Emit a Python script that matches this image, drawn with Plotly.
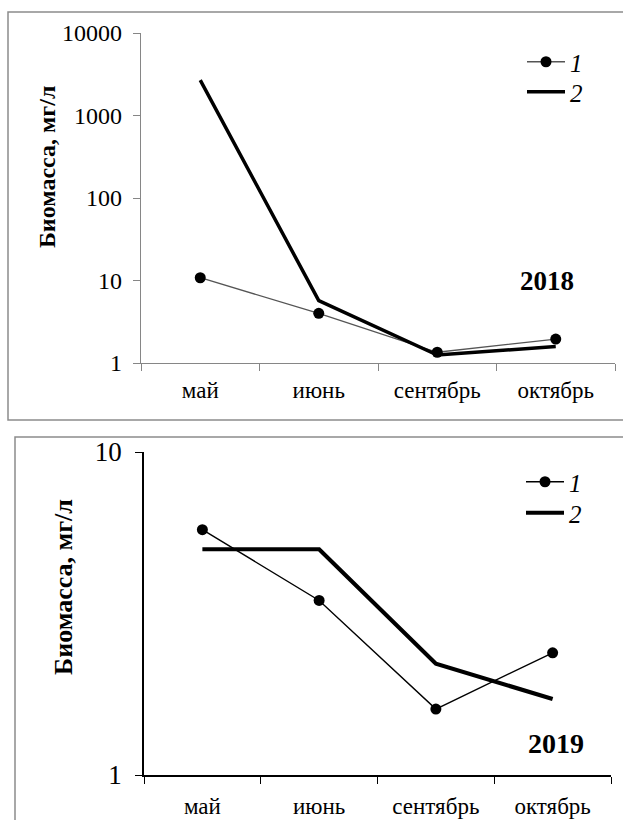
import plotly.graph_objects as go

months = ["май", "июнь", "сентябрь", "октябрь"]

bio2018_s1 = [10.8, 4.0, 1.35, 1.95]
bio2018_s2 = [2690, 5.7, 1.25, 1.58]

bio2019_s1 = [5.75, 3.47, 1.6, 2.39]
bio2019_s2 = [5.0, 5.0, 2.21, 1.72]

ticks2018 = [1, 10, 100, 1000, 10000]
ticks2019 = [1, 10]

series_names = ["<i>1</i>", "<i>2</i>"]
ytitle = "Биомасса, мг/л"

W, H = 623, 820
FONT = "Liberation Serif, Times New Roman, DejaVu Serif, serif"


def px(x):
    return x / W


def py(y):
    return 1 - y / H


fig = go.Figure()

fig.add_trace(go.Scatter(x=months, y=bio2018_s1, name=series_names[0], mode="lines+markers",
                         line=dict(color="#555555", width=1.3),
                         marker=dict(color="black", size=11),
                         xaxis="x", yaxis="y", legend="legend"))
fig.add_trace(go.Scatter(x=months, y=bio2018_s2, name=series_names[1], mode="lines",
                         line=dict(color="black", width=3.5),
                         xaxis="x", yaxis="y", legend="legend2"))
fig.add_trace(go.Scatter(x=months, y=bio2019_s1, name=series_names[0], mode="lines+markers",
                         line=dict(color="black", width=1.4),
                         marker=dict(color="black", size=11),
                         xaxis="x2", yaxis="y2", legend="legend3"))
fig.add_trace(go.Scatter(x=months, y=bio2019_s2, name=series_names[1], mode="lines",
                         line=dict(color="black", width=4.2),
                         xaxis="x2", yaxis="y2", legend="legend4"))

gray = "#868686"

common_x = dict(type="category", range=[-0.5, 3.5], tickson="boundaries", ticks="outside",
                ticklen=7, showline=True, showgrid=False, zeroline=False, automargin=False,
                tickfont=dict(family=FONT, size=23, color="black"), fixedrange=True)
common_y = dict(type="log", ticks="outside", ticklen=7, showline=True, showgrid=False,
                zeroline=False, automargin=False,
                tickfont=dict(family=FONT, size=24, color="black"), fixedrange=True)


def leg(x, y):
    return dict(x=px(x), y=py(y), xanchor="left", yanchor="middle", itemwidth=38,
                font=dict(family=FONT, size=25, color="black"), bgcolor="rgba(0,0,0,0)")


fig.update_layout(
    width=W, height=H, margin=dict(l=0, r=0, t=0, b=0, autoexpand=False),
    paper_bgcolor="white", plot_bgcolor="white",
    font=dict(family=FONT, color="black"),
    xaxis=dict(common_x, domain=[px(141), px(615)], anchor="y", linecolor=gray,
               tickcolor=gray, linewidth=1.3, ticklabelstandoff=6),
    yaxis=dict(common_y, domain=[py(363), py(33)], anchor="x", range=[0, 4],
               tickvals=ticks2018, ticktext=[str(t) for t in ticks2018],
               linecolor=gray, tickcolor=gray, linewidth=1.3, ticklabelstandoff=6),
    xaxis2=dict(common_x, domain=[px(144), px(611)], anchor="y2", linecolor="black",
                tickcolor="black", linewidth=1.5, ticklabelstandoff=10),
    yaxis2=dict(common_y, domain=[py(775), py(452)], anchor="x2", range=[0, 1],
                tickvals=ticks2019, ticktext=[str(t) for t in ticks2019],
                linecolor="black", tickcolor="black", linewidth=1.5,
                tickfont=dict(family=FONT, size=27, color="black"), ticklabelstandoff=8),
    legend=leg(522, 62),
    legend2=leg(522, 92),
    legend3=leg(521, 482),
    legend4=leg(521, 513),
    showlegend=True,
    shapes=[
        dict(type="rect", xref="paper", yref="paper", x0=px(8), x1=px(640), y0=py(420), y1=py(12),
             line=dict(color="#8c8c8c", width=1.5), fillcolor="rgba(0,0,0,0)", layer="below"),
        dict(type="rect", xref="paper", yref="paper", x0=px(15), x1=px(640), y0=py(840), y1=py(437),
             line=dict(color="#8c8c8c", width=1.5), fillcolor="rgba(0,0,0,0)", layer="below"),
    ],
    annotations=[
        dict(text="<b>2018</b>", x=px(547), y=py(281), xref="paper", yref="paper",
             xanchor="center", yanchor="middle",
             showarrow=False, font=dict(family=FONT, size=27, color="black")),
        dict(text="<b>2019</b>", x=px(556), y=py(743), xref="paper", yref="paper",
             xanchor="center", yanchor="middle",
             showarrow=False, font=dict(family=FONT, size=28, color="black")),
        dict(text="<b>" + ytitle + "</b>", x=px(47), y=py(167), xref="paper", yref="paper",
             xanchor="center", yanchor="middle",
             showarrow=False, textangle=-90, font=dict(family=FONT, size=24, color="black")),
        dict(text="<b>" + ytitle + "</b>", x=px(63), y=py(587), xref="paper", yref="paper",
             xanchor="center", yanchor="middle",
             showarrow=False, textangle=-90, font=dict(family=FONT, size=26, color="black")),
    ],
)

post = (
    "document.documentElement.style.margin='0';"
    "document.documentElement.style.overflow='hidden';"
    "document.body.style.margin='0';document.body.style.padding='0';"
    "document.body.style.overflow='hidden';"
    "var gd=document.getElementById('{plot_id}');"
    "gd.style.position='fixed';gd.style.top='0px';gd.style.left='0px';"
)

fig.write_html("out.html", config={"displayModeBar": False}, post_script=post)
